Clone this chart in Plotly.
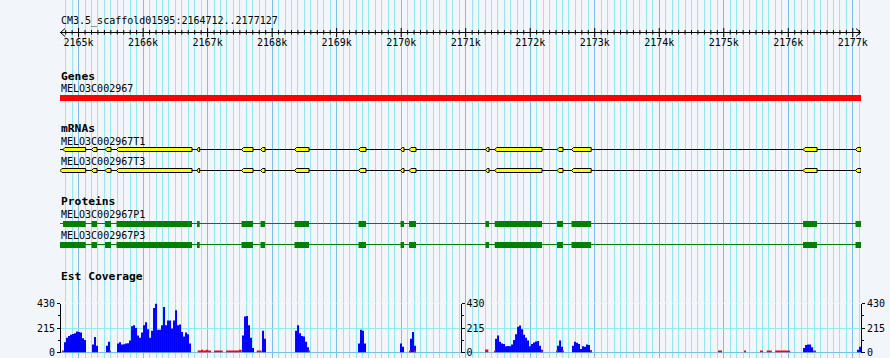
import plotly.graph_objects as go

# ---------------- data ----------------
REGION_START = 2164712
REGION_END = 2177127
REF_NAME = "CM3.5_scaffold01595"
TITLE = f"{REF_NAME}:{REGION_START}..{REGION_END}"

ruler_kb = [2165, 2166, 2167, 2168, 2169, 2170, 2171, 2172, 2173, 2174, 2175, 2176, 2177]
ruler_labels = [f"{k}k" for k in ruler_kb]

gene_name = "MELO3C002967"
gene_start = 2164712
gene_end = 2177127

exon_starts = [2164758, 2165200, 2165410, 2165588, 2166836, 2167525, 2167820, 2168347, 2169339,
               2169990, 2170122, 2171307, 2171450, 2172416, 2172640, 2176229, 2177042]
exon_ends = [2165110, 2165286, 2165503, 2166758, 2166877, 2167704, 2167890, 2168572, 2169455,
             2170044, 2170230, 2171362, 2172183, 2172508, 2172945, 2176446, 2177127]

mrna_names = ["MELO3C002967T1", "MELO3C002967T3"]
protein_names = ["MELO3C002967P1", "MELO3C002967P3"]
first_exon_starts = [2164758, 2164712]   # isoform 1, isoform 3

cov_bin = 31
cov_island_starts = [2164774, 2165208, 2165425, 2165596, 2167533, 2167843, 2168355, 2169331,
                     2169982, 2170137, 2171455, 2172416, 2172648, 2176229, 2177066]
cov_A = [90, 130, 145, 155, 163, 170, 185, 180, 175, 125, 110]
cov_B = [70, 135, 60]
cov_C = [60, 95]
cov_D = [80, 90, 70, 72, 78, 81, 105, 230, 240, 215, 150, 130, 175, 240, 265, 205, 130, 190, 390,
         430, 200, 200, 240, 400, 240, 280, 280, 210, 280, 370, 240, 245, 180, 140, 175, 160, 80]
cov_E = [150, 315, 320, 240, 130, 40]
cov_F = [190, 120]
cov_G = [190, 240, 170, 145, 140, 95, 45]
cov_H = [80, 200, 190, 80]
cov_I = [80, 50]
cov_J = [120, 180, 60]
cov_K = [120, 150, 95, 80, 75, 55, 58, 55, 70, 110, 160, 225, 238, 205, 155, 130, 105, 55, 75,
         88, 97, 100, 60, 25]
cov_L = [60, 105, 50]
cov_M = [60, 95, 85, 75, 30, 55, 50, 70, 65, 20]
cov_N = [40, 65, 70, 70, 45]
cov_O = [25, 50]
cov_islands = [cov_A, cov_B, cov_C, cov_D, cov_E, cov_F, cov_G, cov_H, cov_I, cov_J, cov_K,
               cov_L, cov_M, cov_N, cov_O]

red_starts = [2164754, 2165476, 2166846, 2166898, 2166929, 2166976, 2167006, 2167099, 2167285,
              2167487, 2167761, 2168556, 2170122, 2170199, 2171300, 2171439, 2172178, 2172400,
              2172493, 2172927, 2174911, 2175314, 2175562, 2175666, 2175797, 2176384]
red_ends = [2164774, 2165503, 2166898, 2166929, 2166976, 2167006, 2167053, 2167234, 2167487,
            2167528, 2167838, 2168572, 2170137, 2170230, 2171351, 2171455, 2172199, 2172416,
            2172509, 2172953, 2174973, 2175345, 2175609, 2175744, 2176030, 2176430]
red_vals = [14, 14, 14, 24, 16, 24, 14, 14, 14, 24, 14, 14, 14, 14, 26, 10, 10, 14, 14, 14, 10, 10,
            14, 18, 18, 18]

cov_max = 430
cov_ticks = [0, 215, 430]
cov_minor_ticks = [107.5, 322.5]

# ---------------- style ----------------
W, H = 890, 358
ML, MR = 60, 29
BG = "#f2f6fa"
GRID_MINOR = "#94ebef"
GRID_MAJOR = "#7cc0e8"
MONO = "DejaVu Sans Mono"
bp_per_px = (REGION_END - REGION_START) / (W - ML - MR)

font_n = dict(family=MONO, size=10, color="black")
font_b = dict(family=MONO, size=11.3, color="black", weight="bold")

fig = go.Figure()

# ---------------- ruler ----------------
rx, ry = [], []
pos = (REGION_START // 100 + 1) * 100
while pos <= REGION_END:
    major = pos % 1000 == 0
    rx += [pos, pos, None]
    ry += [28, 37, None] if major else [30, 34.5, None]
    pos += 100
rx += [REGION_START, REGION_END, None]
ry += [32.5, 32.5, None]
aw = 5 * bp_per_px
rx += [REGION_START + aw, REGION_START + bp_per_px * 0.5, REGION_START + aw, None]
ry += [28.5, 32.5, 36.5, None]
rx += [REGION_END - aw, REGION_END - bp_per_px * 0.5, REGION_END - aw, None]
ry += [28.5, 32.5, 36.5, None]
fig.add_trace(go.Scatter(x=rx, y=ry, mode="lines", line=dict(color="black", width=1),
                         hoverinfo="skip", showlegend=False, xaxis="x", yaxis="y"))
fig.add_trace(go.Scatter(x=[k * 1000 for k in ruler_kb], y=[43] * len(ruler_kb), text=ruler_labels,
                         mode="text", textfont=font_n, textposition="middle center",
                         cliponaxis=False, hoverinfo="skip", showlegend=False,
                         xaxis="x", yaxis="y"))

shapes = []
annotations = []


def label(text, y, bold=False):
    annotations.append(dict(text=text, xref="paper", x=0, xanchor="left", yref="y", y=y,
                            yanchor="middle", showarrow=False, font=font_b if bold else font_n,
                            borderpad=0, xshift=0))


label(TITLE, 21)

# ---------------- genes ----------------
label("Genes", 76, True)
label(gene_name, 88)
shapes.append(dict(type="rect", xref="x", yref="y", x0=gene_start, x1=gene_end, y0=95, y1=101,
                   fillcolor="#ff0000", line=dict(width=0)))

# ---------------- mRNAs ----------------
label("mRNAs", 128, True)
mrna_rows = [(141, 147.5, 151.5, 149.5), (161.5, 168.5, 172.5, 170.5)]
for name, first, (ly, y0, y1, yc) in zip(mrna_names, first_exon_starts, mrna_rows):
    label(name, ly)
    shapes.append(dict(type="line", xref="x", yref="y", x0=REGION_START, x1=REGION_END,
                       y0=yc, y1=yc, line=dict(color="black", width=1)))
    starts = [first] + exon_starts[1:]
    for s, e in zip(starts, exon_ends):
        t = min(2 * bp_per_px, (e - s) / 2)
        path = f"M {s},{yc} L {s + t},{y0} L {e},{y0} L {e},{y1} L {s + t},{y1} Z"
        shapes.append(dict(type="path", xref="x", yref="y", path=path, fillcolor="#ffff00",
                           line=dict(color="black", width=1)))

# ---------------- proteins ----------------
label("Proteins", 201, True)
prot_rows = [(214.5, 221, 227, 223.5), (235, 242, 248, 244.5)]
for name, first, (ly, y0, y1, yc) in zip(protein_names, first_exon_starts, prot_rows):
    label(name, ly)
    shapes.append(dict(type="line", xref="x", yref="y", x0=REGION_START, x1=REGION_END,
                       y0=yc, y1=yc, line=dict(color="#008000", width=1)))
    starts = [first] + exon_starts[1:]
    for s, e in zip(starts, exon_ends):
        shapes.append(dict(type="rect", xref="x", yref="y", x0=s, x1=e, y0=y0, y1=y1,
                           fillcolor="#008000", line=dict(width=0)))

# ---------------- coverage ----------------
label("Est Coverage", 276, True)
bx, by = [], []
for st, vals in zip(cov_island_starts, cov_islands):
    for i, v in enumerate(vals):
        bx.append(st + (i + 0.5) * cov_bin)
        by.append(v)
fig.add_trace(go.Bar(x=bx, y=by, width=[cov_bin] * len(bx), marker=dict(color="#0000ff", line=dict(width=0)),
                     hoverinfo="skip", showlegend=False, xaxis="x", yaxis="y2"))
fig.add_trace(go.Bar(x=[(s + e) / 2 for s, e in zip(red_starts, red_ends)], y=red_vals,
                     width=[e - s for s, e in zip(red_starts, red_ends)],
                     marker=dict(color="#ff0000", line=dict(width=0)),
                     hoverinfo="skip", showlegend=False, xaxis="x", yaxis="y2"))
fig.add_trace(go.Scatter(x=[None], y=[None], xaxis="x", yaxis="y3", showlegend=False))
fig.add_trace(go.Scatter(x=[None], y=[None], xaxis="x", yaxis="y4", showlegend=False))

shapes.append(dict(type="line", xref="paper", x0=0, x1=1, yref="y2", y0=417, y1=417,
                   line=dict(color=GRID_MINOR, width=1), layer="below"))

cov_dom = [(H - 352.5) / H, (H - 303.5) / H]
cov_axis_common = dict(domain=cov_dom, range=[0, cov_max], tickmode="array", tickvals=cov_ticks,
                       ticktext=[str(v) for v in cov_ticks], ticks="outside", ticklen=3,
                       tickcolor="black", tickfont=font_n, showline=True, linecolor="black",
                       linewidth=1, fixedrange=True, automargin=False,
                       minor=dict(tickmode="array", tickvals=cov_minor_ticks, ticks="outside",
                                  ticklen=2, tickcolor="black", showgrid=False))

fig.update_layout(
    width=W, height=H, margin=dict(l=ML, r=MR, t=0, b=0, pad=0, autoexpand=False),
    paper_bgcolor=BG, plot_bgcolor=BG, barmode="overlay", hovermode=False,
    showlegend=False, shapes=shapes, annotations=annotations,
    xaxis=dict(range=[REGION_START, REGION_END], tickmode="linear", tick0=2164000, dtick=1000,
               showticklabels=False, ticks="", showgrid=True, gridcolor=GRID_MAJOR, gridwidth=1,
               zeroline=False, showline=False, fixedrange=True, automargin=False,
               minor=dict(tick0=2164700, dtick=100, showgrid=True, gridcolor=GRID_MINOR, gridwidth=1)),
    yaxis=dict(range=[H, 0], domain=[0, 1], visible=False, fixedrange=True, automargin=False),
    yaxis2=dict(anchor="free", position=0, side="left", showgrid=True, gridcolor=GRID_MINOR,
                zeroline=True, zerolinecolor=GRID_MAJOR, zerolinewidth=1, **cov_axis_common),
    yaxis3=dict(anchor="free", overlaying="y2", position=0.5, side="right", showgrid=False,
                zeroline=False, **cov_axis_common),
    yaxis4=dict(anchor="free", overlaying="y2", position=1, side="right", showgrid=False,
                zeroline=False, **cov_axis_common),
)

fig.write_html("out.html", config={"displayModeBar": False},
               post_script="document.body.style.margin='0';document.body.style.background='%s';" % BG)
